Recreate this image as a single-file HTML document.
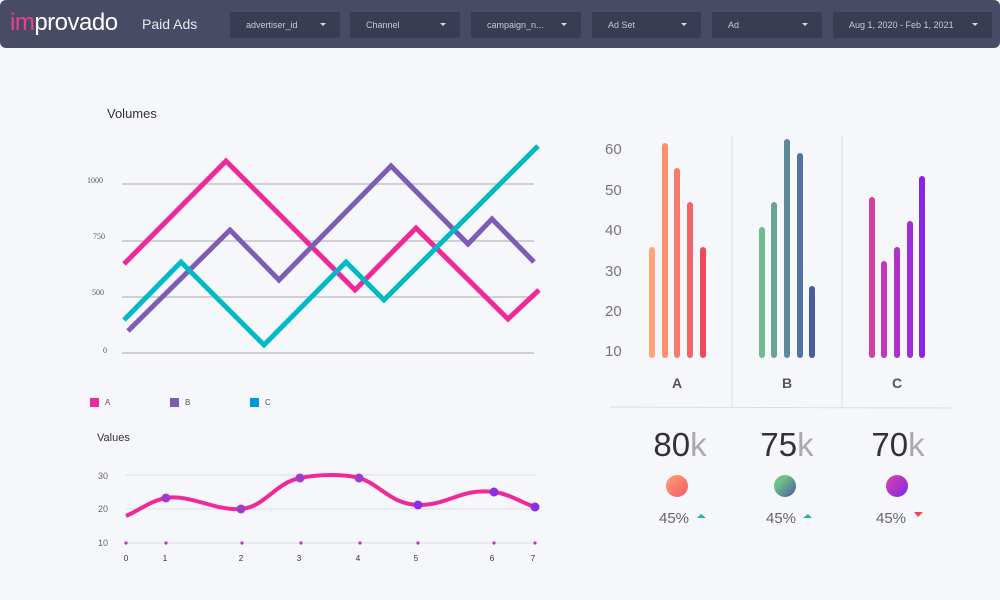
<!DOCTYPE html>
<html><head><meta charset="utf-8"><style>
body{margin:0;width:1000px;height:600px;background:#e9eaf0;font-family:"Liberation Sans",sans-serif;overflow:hidden}
.page{position:absolute;left:0;top:0;width:1000px;height:600px;background:#f6f7fb}
.hdr{position:absolute;left:0;top:0;width:1000px;height:48px;background:#474b66;border-radius:6px 6px 6px 6px}
.dd{position:absolute;top:12px;height:26px;background:#393c52;color:#c8cad6;font-size:9px;line-height:26px;box-sizing:border-box;padding-left:16px;border-radius:2px}
.dd:after{content:"";position:absolute;right:14px;top:11px;border-left:3px solid transparent;border-right:3px solid transparent;border-top:3px solid #d8d9e2}
</style></head><body><div class="page">
<div class="hdr">
<div style="position:absolute;left:10px;top:9px;font-size:24px;color:#fff;letter-spacing:-0.5px"><span style="color:#ec3f8e">im</span>provado</div>
<div style="position:absolute;left:142px;top:16px;font-size:14px;color:#e8e9ef">Paid Ads</div>
<div class="dd" style="left:230px;width:110px">advertiser_id</div>
<div class="dd" style="left:350px;width:110px">Channel</div>
<div class="dd" style="left:471px;width:110px">campaign_n...</div>
<div class="dd" style="left:592px;width:109px">Ad Set</div>
<div class="dd" style="left:712px;width:110px">Ad</div>
<div class="dd" style="left:833px;width:159px">Aug 1, 2020 - Feb 1, 2021</div>
</div>
<svg width="1000" height="600" style="position:absolute;left:0;top:0" font-family="Liberation Sans, sans-serif">
<defs>
<linearGradient id="gA" x1="0" y1="0" x2="1" y2="1"><stop offset="0" stop-color="#ffa070"/><stop offset="1" stop-color="#f25a6a"/></linearGradient>
<linearGradient id="gB" x1="0" y1="0" x2="1" y2="1"><stop offset="0.3" stop-color="#6fbf8c"/><stop offset="1" stop-color="#47599e"/></linearGradient>
<linearGradient id="gC" x1="0" y1="0" x2="1" y2="1"><stop offset="0" stop-color="#da45a8"/><stop offset="1" stop-color="#8026ec"/></linearGradient>
</defs>
<text x="107" y="118" font-size="13" fill="#333">Volumes</text>
<g stroke="#cfcfd4" stroke-width="2">
<line x1="122" y1="184" x2="534" y2="184"/><line x1="122" y1="241" x2="534" y2="241"/><line x1="122" y1="297" x2="534" y2="297"/><line x1="122" y1="353" x2="534" y2="353"/></g>
<g font-size="8" fill="#555" font-family="Liberation Serif, serif" text-anchor="end">
<text x="103" y="183">1000</text><text x="105" y="239">750</text><text x="104" y="295">500</text><text x="107" y="353">0</text></g>
<g fill="none" stroke-width="5" stroke-linejoin="miter">
<polyline stroke="#f0289a" points="124,264 226,161 355,290 416,228 508,319 539,290"/>
<polyline stroke="#7d5cb5" points="128,331 230,230 279,280 391,166 468,244 492,219 534,262"/>
<polyline stroke="#00bac8" points="124,320 181,262 264,345 346,262 384,300 538,146"/>
</g>
<rect x="90" y="398" width="9" height="9" fill="#f0289a"/><text x="105" y="405" font-size="8" fill="#555">A</text>
<rect x="170" y="398" width="9" height="9" fill="#7d5cb5"/><text x="185" y="405" font-size="8" fill="#555">B</text>
<rect x="250" y="398" width="9" height="9" fill="#0098dc"/><text x="265" y="405" font-size="8" fill="#555">C</text>
<text x="97" y="441" font-size="11" fill="#333">Values</text>
<g stroke="#dcdce2" stroke-width="1"><line x1="126" y1="475" x2="535" y2="475"/><line x1="126" y1="509" x2="535" y2="509"/><line x1="126" y1="543" x2="535" y2="543"/></g>
<g font-size="9" fill="#666"><text x="98" y="479">30</text><text x="98" y="512">20</text><text x="98" y="546">10</text></g>
<path d="M126,516 C140,510 150,501 166,498 C190,494 215,511 241,509 C265,507 275,483 300,478 C320,474 345,474 359,478 C380,484 390,504 418,505 C450,505 460,488 494,492 C510,494 520,502 535,507" fill="none" stroke="#f0289a" stroke-width="4"/>
<g fill="#a33acb"><circle cx="166" cy="498" r="4.5"/><circle cx="241" cy="509" r="4.5"/><circle cx="300" cy="478" r="4.5"/><circle cx="359" cy="478" r="4.5"/></g>
<g fill="#8a2ee8"><circle cx="418" cy="505" r="4.5"/><circle cx="494" cy="492" r="4.5"/><circle cx="535" cy="507" r="4.5"/></g>
<g fill="#b03ad0"><circle cx="126" cy="543" r="1.6"/><circle cx="166" cy="543" r="1.6"/><circle cx="242" cy="543" r="1.6"/><circle cx="301" cy="543" r="1.6"/><circle cx="360" cy="543" r="1.6"/><circle cx="418" cy="543" r="1.6"/><circle cx="494" cy="543" r="1.6"/><circle cx="535" cy="543" r="1.6"/></g>
<g font-size="8" fill="#333" text-anchor="middle"><text x="126" y="561">0</text><text x="165" y="561">1</text><text x="241" y="561">2</text><text x="299" y="561">3</text><text x="358" y="561">4</text><text x="416" y="561">5</text><text x="492" y="561">6</text><text x="533" y="561">7</text></g>
<g stroke="#dcdde3" stroke-width="1"><line x1="732" y1="135" x2="732" y2="408"/><line x1="842" y1="135" x2="842" y2="408"/><line x1="610" y1="407" x2="953" y2="408"/></g>
<g font-size="15" fill="#777"><text x="605" y="154">60</text><text x="605" y="195">50</text><text x="605" y="235">40</text><text x="605" y="276">30</text><text x="605" y="316">20</text><text x="605" y="356">10</text></g>
<g stroke-width="6" stroke-linecap="round">
<line x1="652" y1="355" x2="652" y2="250" stroke="#ffa574"/><line x1="665" y1="355" x2="665" y2="146" stroke="#fd8f6c"/><line x1="677" y1="355" x2="677" y2="171" stroke="#f77a6a"/><line x1="690" y1="355" x2="690" y2="205" stroke="#f3636a"/><line x1="703" y1="355" x2="703" y2="250" stroke="#ef4a5c"/>
<line x1="762" y1="355" x2="762" y2="230" stroke="#70bb8e"/><line x1="774" y1="355" x2="774" y2="205" stroke="#68a498"/><line x1="787" y1="355" x2="787" y2="142" stroke="#5c8a97"/><line x1="800" y1="355" x2="800" y2="156" stroke="#52739e"/><line x1="812" y1="355" x2="812" y2="289" stroke="#4a5c9e"/>
<line x1="872" y1="355" x2="872" y2="200" stroke="#cf40a6"/><line x1="884" y1="355" x2="884" y2="264" stroke="#c037b8"/><line x1="897" y1="355" x2="897" y2="250" stroke="#b132c8"/><line x1="910" y1="355" x2="910" y2="224" stroke="#9e2cd8"/><line x1="922" y1="355" x2="922" y2="179" stroke="#8726ea"/>
</g>
<g font-size="14" fill="#555" font-weight="bold" text-anchor="middle"><text x="677" y="388">A</text><text x="787" y="388">B</text><text x="897" y="388">C</text></g>
<g font-size="33" fill="#333" text-anchor="middle"><text x="680" y="456">80<tspan fill="#aaa">k</tspan></text><text x="787" y="456">75<tspan fill="#aaa">k</tspan></text><text x="898" y="456">70<tspan fill="#aaa">k</tspan></text></g>
<circle cx="677" cy="486" r="11" fill="url(#gA)"/><circle cx="785" cy="486" r="11" fill="url(#gB)"/><circle cx="897" cy="486" r="11" fill="url(#gC)"/>
<g font-size="15" fill="#666"><text x="659" y="523">45%</text><text x="766" y="523">45%</text><text x="876" y="523">45%</text></g>
<polygon points="697,518 701,514 706,518" fill="#1fb8a6"/><polygon points="803,518 808,514 812,518" fill="#1fb8a6"/><polygon points="914,512 923,512 918,517" fill="#f04a5a"/>
</svg>
</div></body></html>
